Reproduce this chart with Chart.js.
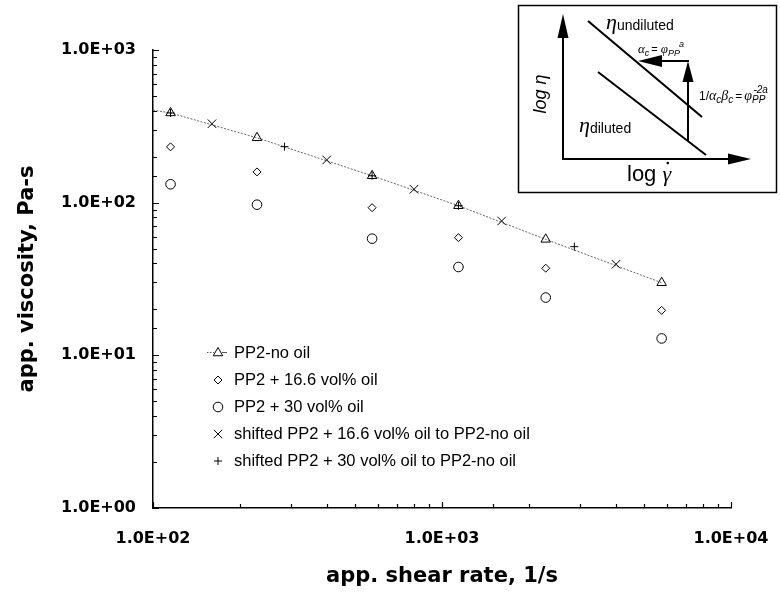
<!DOCTYPE html>
<html>
<head>
<meta charset="utf-8">
<script src="https://cdn.jsdelivr.net/npm/chart.js@4.4.1/dist/chart.umd.min.js"></script>
<style>
  html, body { margin: 0; padding: 0; background: #fff; }
  #wrap { width: 780px; height: 595px; }
</style>
</head>
<body>
<div id="wrap"><canvas id="viscChart" width="780" height="595"></canvas></div>
<script>
/* ===== Data ===== */
var shearRate   = [115, 229, 573, 1140, 2285, 5755];
var noOil       = [387, 266, 150, 95.5, 57.5, 29.9];
var oil166      = [232, 159, 92.7, 59.0, 37.2, 19.7];
var oil30       = [132, 97.0, 58.1, 37.9, 23.9, 12.9];

var shifted166X = [160, 399, 800, 1609, 4000];
var shifted166Y = [329, 190.5, 122.4, 75.9, 39.5];
var shifted30X  = [115, 285, 573, 1140, 2870];
var shifted30Y  = [387, 232.7, 150, 95.5, 51.5];

// dotted curve through the no-oil points, starting at the y axis
var fitX = [100, 115, 229, 573, 1140, 2285, 5755];
var fitY = [404, 387, 266, 150, 95.5, 57.5, 29.9];

var xTicksMin = 100, xTicksMax = 10000;
var yTicksMin = 1,   yTicksMax = 1000;

var LABELS = [
    'PP2-no oil',
    'PP2 + 16.6 vol% oil',
    'PP2 + 30 vol% oil',
    'shifted PP2 + 16.6 vol% oil to PP2-no oil',
    'shifted PP2 + 30 vol% oil to PP2-no oil'
];

var X_TITLE = 'app. shear rate, 1/s';
var Y_TITLE = 'app. viscosity, Pa-s';

/* ===== Helpers ===== */
function pts(xs, ys) {
    return xs.map(function (x, i) { return { x: x, y: ys[i] }; });
}
function isDecade(v) {
    var l = Math.log10(v);
    return Math.abs(l - Math.round(l)) < 1e-9;
}
function sciLabel(v) {
    var e = Math.round(Math.log10(v));
    var s = Math.abs(e) < 10 ? '0' + Math.abs(e) : '' + Math.abs(e);
    return '1.0E' + (e < 0 ? '-' : '+') + s;
}

var TICK_FONT  = { family: "'DejaVu Sans', sans-serif", size: 16, weight: 'bold' };
var TITLE_FONT = { family: "'DejaVu Sans', sans-serif", size: 21, weight: 'bold' };

/* ===== Plugins ===== */
// short ticks drawn inside the plot area
var innerTicks = {
    id: 'innerTicks',
    afterDatasetsDraw: function (chart) {
        var ctx = chart.ctx, a = chart.chartArea;
        var xs = chart.scales.x, ys = chart.scales.y;
        ctx.save();
        ctx.strokeStyle = '#000';
        ctx.lineWidth = 1.2;
        ctx.beginPath();
        ys.ticks.forEach(function (t) {
            var py = Math.round(ys.getPixelForValue(t.value)) + 0.5;
            var len = isDecade(t.value) ? 6 : 4;
            ctx.moveTo(a.left, py);
            ctx.lineTo(a.left + len, py);
        });
        xs.ticks.forEach(function (t) {
            var px = Math.round(xs.getPixelForValue(t.value)) + 0.5;
            var len = isDecade(t.value) ? 6 : 4;
            ctx.moveTo(px, a.bottom);
            ctx.lineTo(px, a.bottom - len);
        });
        ctx.stroke();
        ctx.restore();
    }
};

// legend inside the plot (line + marker + text)
var plotLegend = {
    id: 'plotLegend',
    afterDatasetsDraw: function (chart, args, opts) {
        var ctx = chart.ctx;
        ctx.save();
        ctx.font = '16.5px "Liberation Sans", Arial, sans-serif';
        ctx.textBaseline = 'middle';
        chart.data.datasets.forEach(function (ds) {
            if (ds.legendRow === undefined) return;
            var y = opts.top + ds.legendRow * opts.step;
            if (ds.legendLine) {
                ctx.strokeStyle = '#555';
                ctx.lineWidth = 1;
                ctx.setLineDash([1.5, 1.5]);
                ctx.beginPath();
                ctx.moveTo(opts.markX - 11, y + 0.5);
                ctx.lineTo(opts.markX - 4, y + 0.5);
                ctx.stroke();
                ctx.setLineDash([]);
                ctx.beginPath();
                ctx.moveTo(opts.markX + 4, y + 0.5);
                ctx.lineTo(opts.markX + 9, y + 0.5);
                ctx.stroke();
            }
            ctx.strokeStyle = '#000';
            ctx.fillStyle = 'rgba(0,0,0,0)';
            ctx.lineWidth = ds.borderWidth;
            Chart.helpers.drawPoint(ctx, {
                pointStyle: ds.pointStyle, radius: ds.pointRadius, rotation: 0, borderWidth: ds.borderWidth
            }, opts.markX, y + 1);
            ctx.fillStyle = '#000';
            ctx.fillText(ds.label, opts.textX, y + 1);
        });
        ctx.restore();
    }
};

// schematic inset in the upper right corner
var schematic = {
    id: 'schematic',
    afterDraw: function (chart) {
        var ctx = chart.ctx;
        ctx.save();
        ctx.fillStyle = '#fff';
        ctx.fillRect(518, 5, 259, 187);
        ctx.strokeStyle = '#000';
        ctx.lineWidth = 1.5;
        ctx.strokeRect(518.5, 5.5, 258, 187);

        function arrow(x1, y1, x2, y2, w, hl) {
            var ang = Math.atan2(y2 - y1, x2 - x1);
            var bx = x2 - Math.cos(ang) * hl, by = y2 - Math.sin(ang) * hl;
            ctx.lineWidth = 2;
            ctx.beginPath();
            ctx.moveTo(x1, y1);
            ctx.lineTo(bx, by);
            ctx.stroke();
            ctx.beginPath();
            ctx.moveTo(x2, y2);
            ctx.lineTo(bx + Math.sin(ang) * w / 2, by - Math.cos(ang) * w / 2);
            ctx.lineTo(bx - Math.sin(ang) * w / 2, by + Math.cos(ang) * w / 2);
            ctx.closePath();
            ctx.fillStyle = '#000';
            ctx.fill();
        }
        function seg(x1, y1, x2, y2) {
            ctx.lineWidth = 2;
            ctx.beginPath();
            ctx.moveTo(x1, y1);
            ctx.lineTo(x2, y2);
            ctx.stroke();
        }
        // pieces: [text, font, dy, extra gap]
        function rich(x, y, pieces) {
            ctx.fillStyle = '#000';
            ctx.textBaseline = 'alphabetic';
            ctx.textAlign = 'left';
            pieces.forEach(function (p) {
                ctx.font = p[1];
                ctx.fillText(p[0], x, y + (p[2] || 0));
                x += ctx.measureText(p[0]).width + (p[3] || 0);
            });
            return x;
        }

        arrow(563, 160, 563, 14, 11, 24);
        arrow(562, 159, 751, 159, 11, 23);
        seg(588, 21, 702, 117);
        seg(598, 72, 706, 155);
        arrow(688, 141, 688, 61, 11, 21);
        arrow(689, 61, 638, 61, 12, 24);

        var SERIF_I = "italic 22px 'Liberation Serif', serif";
        var SANS = "'Liberation Sans', Arial, sans-serif";
        rich(606, 29, [['η', SERIF_I], ['undiluted', '14px ' + SANS, 1]]);
        rich(579, 132, [['η', SERIF_I], ['diluted', '14px ' + SANS, 1]]);

        var GI = "italic 13px 'Liberation Serif', serif";
        var SUB = "italic 9px " + SANS;
        rich(638, 53, [['α', GI], ['c', SUB, 3, 2], ['=', '11px ' + SANS, 0, 3], ['φ', GI],
            ['PP', SUB, 3, -10]]);
        rich(679, 47, [['a', SUB]]);

        var GI2 = "italic 14px 'Liberation Serif', serif";
        var SUB2 = "italic 10px " + SANS;
        var x = rich(699, 100, [['1/', '12px ' + SANS], ['α', GI2], ['c', SUB2, 3], ['β', GI2], ['c', SUB2, 3, 2],
            ['=', '12px ' + SANS, 0, 2], ['φ', GI2], ['PP', SUB2, 3, -12]]);
        rich(x, 93, [['-2a', SUB2]]);

        // log eta (rotated)
        ctx.save();
        ctx.translate(546, 94);
        ctx.rotate(-Math.PI / 2);
        ctx.textAlign = 'center';
        ctx.font = "italic 18px " + SANS;
        ctx.fillStyle = '#000';
        ctx.fillText('log η', 0, 0);
        ctx.restore();

        // log gamma-dot
        var gx = rich(627, 181, [['log ', '22px ' + SANS]]);
        ctx.font = "italic 22px 'Liberation Serif', serif";
        ctx.fillText('γ', gx, 181);
        var gw = ctx.measureText('γ').width;
        ctx.beginPath();
        ctx.arc(gx + gw / 2 + 1, 163, 1.3, 0, Math.PI * 2);
        ctx.fill();
        ctx.restore();
    }
};

/* ===== Chart ===== */
var marker = { borderColor: '#000', backgroundColor: 'rgba(0,0,0,0)', borderWidth: 1, showLine: false };
var hiddenTicks = { display: true, drawOnChartArea: false, drawTicks: true, tickLength: 20, tickColor: 'rgba(0,0,0,0)' };

new Chart(document.getElementById('viscChart'), {
    type: 'scatter',
    data: {
        datasets: [
            Object.assign({}, marker, { label: LABELS[0], data: pts(shearRate, noOil), pointStyle: 'triangle', pointRadius: 5.5, legendRow: 0, legendLine: true }),
            Object.assign({}, marker, { label: LABELS[1], data: pts(shearRate, oil166), pointStyle: 'rectRot', pointRadius: 4, legendRow: 1 }),
            Object.assign({}, marker, { label: LABELS[2], data: pts(shearRate, oil30), pointStyle: 'circle', pointRadius: 4.8, legendRow: 2 }),
            Object.assign({}, marker, { label: LABELS[3], data: pts(shifted166X, shifted166Y), pointStyle: 'crossRot', pointRadius: 6, legendRow: 3 }),
            Object.assign({}, marker, { label: LABELS[4], data: pts(shifted30X, shifted30Y), pointStyle: 'cross', pointRadius: 4, legendRow: 4 }),
            {
                label: 'fit',
                data: pts(fitX, fitY),
                showLine: true,
                pointRadius: 0,
                borderColor: '#666',
                borderWidth: 1,
                borderDash: [2, 1.5],
                tension: 0,
                fill: false
            }
        ]
    },
    options: {
        responsive: false,
        animation: false,
        events: [],
        layout: { padding: { top: 50, right: 49, left: 0, bottom: 0 } },
        plugins: {
            legend: { display: false },
            tooltip: { enabled: false },
            plotLegend: { top: 352, step: 27, markX: 218, textX: 234 }
        },
        scales: {
            x: {
                type: 'logarithmic',
                min: xTicksMin,
                max: xTicksMax,
                afterFit: function (s) { s.height = 87; },
                grid: hiddenTicks,
                border: { display: true, color: '#000', width: 1.5 },
                ticks: {
                    autoSkip: false, maxRotation: 0, minRotation: 0, padding: 1,
                    color: '#000', font: TICK_FONT,
                    callback: function (v) { return isDecade(v) ? sciLabel(v) : ''; }
                },
                title: { display: true, text: X_TITLE, color: '#000', font: TITLE_FONT, padding: { top: 0, bottom: 6 } }
            },
            y: {
                type: 'logarithmic',
                min: yTicksMin,
                max: yTicksMax,
                afterFit: function (s) { s.width = 153; },
                grid: { display: true, drawOnChartArea: false, drawTicks: false },
                border: { display: true, color: '#000', width: 1.5 },
                ticks: {
                    autoSkip: false, padding: 17,
                    color: '#000', font: TICK_FONT,
                    callback: function (v) { return isDecade(v) ? sciLabel(v) : ''; }
                },
                title: { display: true, text: Y_TITLE, color: '#000', font: TITLE_FONT, padding: { top: 15, bottom: 0 } }
            }
        }
    },
    plugins: [innerTicks, plotLegend, schematic]
});
</script>
</body>
</html>
